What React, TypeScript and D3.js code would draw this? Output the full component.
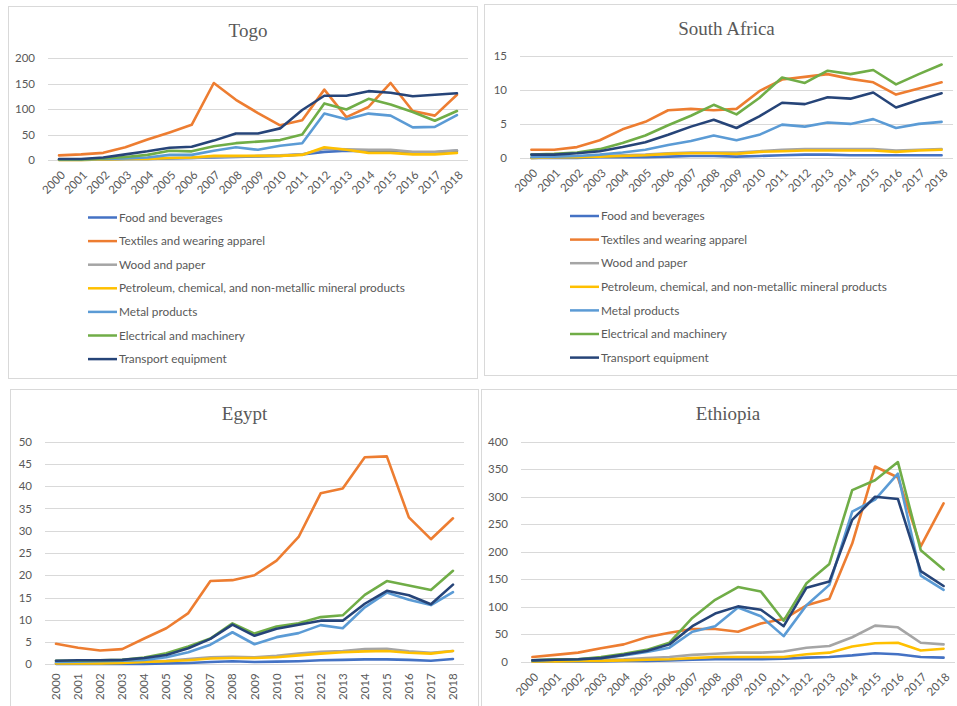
import React, { useEffect, useRef } from 'react';
import * as d3 from 'd3';

const years = ['2000', '2001', '2002', '2003', '2004', '2005', '2006', '2007', '2008', '2009',
    '2010', '2011', '2012', '2013', '2014', '2015', '2016', '2017', '2018'];

const seriesNames = [
    'Food and beverages',
    'Textiles and wearing apparel',
    'Wood and paper',
    'Petroleum, chemical, and non-metallic mineral products',
    'Metal products',
    'Electrical and machinery',
    'Transport equipment',
];

const seriesColors = ['#4472C4', '#ED7D31', '#A5A5A5', '#FFC000', '#5B9BD5', '#70AD47', '#264478'];

// one row per series, same order as seriesNames
const togoValues = [
    [1, 1, 1, 2, 2, 3, 4, 5, 6, 7, 8, 11, 16, 18, 17, 16, 15, 15, 18],
    [9, 11, 14, 25, 40, 54, 69, 151, 118, 92, 68, 78, 138, 84, 104, 151, 96, 87, 128],
    [0, 0, 1, 2, 3, 4, 4, 6, 7, 8, 9, 11, 22, 21, 20, 20, 16, 16, 19],
    [0, 0, 1, 2, 2, 4, 5, 8, 8, 8, 8, 10, 25, 20, 14, 14, 11, 11, 14],
    [1, 1, 2, 3, 5, 10, 10, 18, 25, 20, 28, 33, 91, 80, 91, 87, 64, 65, 88],
    [1, 1, 3, 6, 10, 18, 17, 27, 33, 36, 39, 50, 111, 99, 120, 109, 94, 77, 96],
    [2, 2, 5, 11, 17, 24, 26, 38, 52, 52, 62, 98, 126, 126, 135, 132, 125, 128, 131],
];

const southAfricaValues = [
    [0.0, 0.0, 0.0, 0.1, 0.1, 0.1, 0.2, 0.3, 0.3, 0.2, 0.3, 0.4, 0.5, 0.5, 0.4, 0.4, 0.4, 0.4, 0.4],
    [1.2, 1.2, 1.6, 2.6, 4.2, 5.3, 7.0, 7.2, 7.0, 7.2, 9.8, 11.5, 11.9, 12.3, 11.6, 11.1, 9.3, 10.2, 11.1],
    [0.0, 0.1, 0.2, 0.3, 0.4, 0.5, 0.7, 0.8, 0.8, 0.8, 1.0, 1.2, 1.3, 1.3, 1.3, 1.3, 1.1, 1.2, 1.3],
    [0.0, 0.1, 0.1, 0.2, 0.3, 0.4, 0.6, 0.7, 0.7, 0.6, 0.9, 1.0, 1.1, 1.1, 1.1, 1.1, 0.9, 1.1, 1.2],
    [0.1, 0.2, 0.3, 0.5, 0.8, 1.2, 1.9, 2.5, 3.3, 2.6, 3.4, 4.9, 4.6, 5.2, 5.0, 5.7, 4.4, 5.0, 5.3],
    [0.5, 0.6, 0.8, 1.3, 2.2, 3.3, 4.8, 6.2, 7.8, 6.4, 8.8, 11.8, 11.0, 12.8, 12.3, 12.9, 10.8, 12.3, 13.7],
    [0.5, 0.5, 0.7, 1.0, 1.6, 2.3, 3.4, 4.6, 5.6, 4.4, 6.1, 8.1, 7.9, 8.9, 8.7, 9.6, 7.4, 8.5, 9.5],
];

const egyptValues = [
    [0.1, 0.1, 0.1, 0.1, 0.1, 0.2, 0.3, 0.5, 0.7, 0.5, 0.6, 0.7, 0.9, 1.0, 1.1, 1.1, 1.0, 0.8, 1.2],
    [4.6, 3.7, 3.1, 3.4, 5.8, 8.1, 11.5, 18.7, 18.9, 20.0, 23.3, 28.6, 38.4, 39.5, 46.5, 46.7, 33.0, 28.1, 32.8],
    [0.3, 0.3, 0.3, 0.5, 0.6, 0.8, 1.2, 1.6, 1.7, 1.6, 1.9, 2.4, 2.8, 3.0, 3.4, 3.5, 2.9, 2.6, 3.0],
    [0.2, 0.2, 0.2, 0.3, 0.5, 0.7, 0.9, 1.3, 1.4, 1.4, 1.6, 2.0, 2.4, 2.7, 2.9, 3.0, 2.6, 2.4, 3.0],
    [0.5, 0.6, 0.7, 0.8, 1.0, 1.6, 2.7, 4.4, 7.2, 4.5, 6.1, 7.0, 8.8, 8.1, 12.8, 16.1, 14.5, 13.3, 16.2],
    [0.8, 0.8, 0.9, 1.0, 1.5, 2.5, 4.0, 5.8, 9.2, 6.9, 8.5, 9.2, 10.6, 11.0, 15.6, 18.7, 17.7, 16.7, 21.0],
    [0.8, 0.9, 0.9, 1.0, 1.4, 2.1, 3.6, 5.7, 8.9, 6.4, 8.0, 8.9, 9.8, 9.8, 13.6, 16.5, 15.5, 13.5, 17.9],
];

const ethiopiaValues = [
    [1, 1, 1, 1, 2, 2, 3, 4, 5, 5, 5, 6, 8, 9, 12, 16, 14, 9, 8],
    [9, 13, 17, 25, 32, 45, 53, 60, 60, 55, 70, 78, 103, 115, 215, 355, 335, 210, 288],
    [2, 3, 3, 4, 5, 7, 9, 13, 15, 17, 17, 19, 26, 29, 45, 66, 63, 35, 32],
    [1, 1, 2, 2, 3, 4, 5, 7, 9, 9, 9, 9, 14, 17, 28, 34, 35, 21, 24],
    [3, 4, 5, 7, 12, 18, 26, 55, 65, 99, 83, 47, 103, 140, 273, 295, 342, 157, 131],
    [3, 5, 5, 9, 15, 22, 35, 80, 113, 136, 128, 75, 143, 178, 312, 330, 363, 203, 168],
    [3, 4, 5, 7, 13, 20, 32, 65, 88, 101, 95, 65, 135, 146, 258, 300, 296, 165, 138],
];

interface PanelConfig {
    title: string;
    values: number[][];
    yMax: number;
    yStep: number;
    box: { x: number; y: number; w: number; h: number };
    plot: { left: number; right: number; top: number; bottom: number };
    titleY: number;
    rotate: number;
    legend?: { x: number; y: number; gap: number };
}

const panels: PanelConfig[] = [
    {
        title: 'Togo', values: togoValues, yMax: 200, yStep: 50,
        box: { x: 8, y: 6, w: 469, h: 372 },
        plot: { left: 48, right: 468, top: 58, bottom: 160 },
        titleY: 30, rotate: -45,
        legend: { x: 88, y: 217.5, gap: 23.6 },
    },
    {
        title: 'South Africa', values: southAfricaValues, yMax: 15, yStep: 5,
        box: { x: 484, y: 4, w: 480, h: 371 },
        plot: { left: 520, right: 953, top: 55.7, bottom: 158 },
        titleY: 28, rotate: -45,
        legend: { x: 570, y: 216, gap: 23.6 },
    },
    {
        title: 'Egypt', values: egyptValues, yMax: 50, yStep: 5,
        box: { x: 10, y: 389, w: 468, h: 330 },
        plot: { left: 45, right: 464, top: 441.7, bottom: 664.3 },
        titleY: 413, rotate: -90,
    },
    {
        title: 'Ethiopia', values: ethiopiaValues, yMax: 400, yStep: 50,
        box: { x: 481, y: 389, w: 480, h: 330 },
        plot: { left: 521, right: 955, top: 441.7, bottom: 662 },
        titleY: 413, rotate: -45,
    },
];

const textColor = '#595959';
const labelFont = 'Lato, "Open Sans", sans-serif';

const App: React.FC = () => {
    const svgRef = useRef<SVGSVGElement>(null);

    useEffect(() => {
        if (!svgRef.current) return;
        const svg = d3.select(svgRef.current);
        svg.selectAll('*').remove();

        svg.append('rect').attr('width', 957).attr('height', 706).attr('fill', '#ffffff');

        panels.forEach((p) => {
            const g = svg.append('g');

            g.append('rect')
                .attr('x', p.box.x + 0.5)
                .attr('y', p.box.y + 0.5)
                .attr('width', p.box.w)
                .attr('height', p.box.h)
                .attr('fill', '#ffffff')
                .attr('stroke', '#d9d9d9')
                .attr('stroke-width', 1);

            const x = d3.scaleBand<string>()
                .domain(years)
                .range([p.plot.left, p.plot.right]);
            const y = d3.scaleLinear()
                .domain([0, p.yMax])
                .range([p.plot.bottom, p.plot.top]);
            const ticks = d3.range(0, p.yMax + p.yStep / 2, p.yStep);

            // gridlines
            g.append('g')
                .selectAll('line')
                .data(ticks)
                .enter()
                .append('line')
                .attr('x1', p.plot.left)
                .attr('x2', p.plot.right)
                .attr('y1', (d: number) => Math.round(y(d)) + 0.5)
                .attr('y2', (d: number) => Math.round(y(d)) + 0.5)
                .attr('stroke', '#d9d9d9')
                .attr('stroke-width', 1);

            // y tick labels
            g.append('g')
                .selectAll('text')
                .data(ticks)
                .enter()
                .append('text')
                .attr('x', p.plot.left - 13)
                .attr('y', (d: number) => y(d))
                .attr('dy', '0.35em')
                .attr('text-anchor', 'end')
                .style('font-family', labelFont)
                .style('font-size', '11.5px')
                .style('fill', textColor)
                .text((d: number) => String(d));

            // x tick labels
            const cx = (d: string) => (x(d) as number) + x.bandwidth() / 2;
            g.append('g')
                .selectAll('text')
                .data(years)
                .enter()
                .append('text')
                .attr('transform', (d: string) => p.rotate === -90
                    ? `translate(${cx(d)},${p.plot.bottom + 9}) rotate(-90)`
                    : `translate(${cx(d) + 4},${p.plot.bottom + 13}) rotate(-45)`)
                .attr('dy', '0.35em')
                .attr('text-anchor', 'end')
                .style('font-family', labelFont)
                .style('font-size', '11.5px')
                .style('fill', textColor)
                .text((d: string) => d);

            // title
            g.append('text')
                .attr('x', (p.plot.left + p.plot.right) / 2 - 10)
                .attr('y', p.titleY)
                .attr('dy', '0.35em')
                .attr('text-anchor', 'middle')
                .style('font-family', '"Liberation Serif", "DejaVu Serif", serif')
                .style('font-size', '19px')
                .style('fill', textColor)
                .text(p.title);

            // lines
            const line = d3.line<number>()
                .x((_d: number, i: number) => cx(years[i]))
                .y((d: number) => y(d));

            p.values.forEach((vals, si) => {
                g.append('path')
                    .datum(vals)
                    .attr('d', line)
                    .attr('fill', 'none')
                    .attr('stroke', seriesColors[si])
                    .attr('stroke-width', 2.6)
                    .attr('stroke-linejoin', 'round')
                    .attr('stroke-linecap', 'round');
            });

            // legend
            if (p.legend) {
                const lg = p.legend;
                const items = g.append('g')
                    .selectAll('g')
                    .data(seriesNames)
                    .enter()
                    .append('g')
                    .attr('transform', (_d: string, i: number) => `translate(${lg.x},${lg.y + i * lg.gap})`);
                items.append('line')
                    .attr('x1', 0)
                    .attr('x2', 29)
                    .attr('stroke', (_d: string, i: number) => seriesColors[i])
                    .attr('stroke-width', 2.5);
                items.append('text')
                    .attr('x', 31)
                    .attr('dy', '0.35em')
                    .style('font-family', labelFont)
                    .style('font-size', '11.8px')
                    .style('fill', textColor)
                    .text((d: string) => d);
            }
        });
    }, []);

    return (
        <svg
            ref={svgRef}
            width={957}
            height={706}
            style={{ position: 'absolute', left: 0, top: 0, display: 'block' }}
        />
    );
};

export default App;
